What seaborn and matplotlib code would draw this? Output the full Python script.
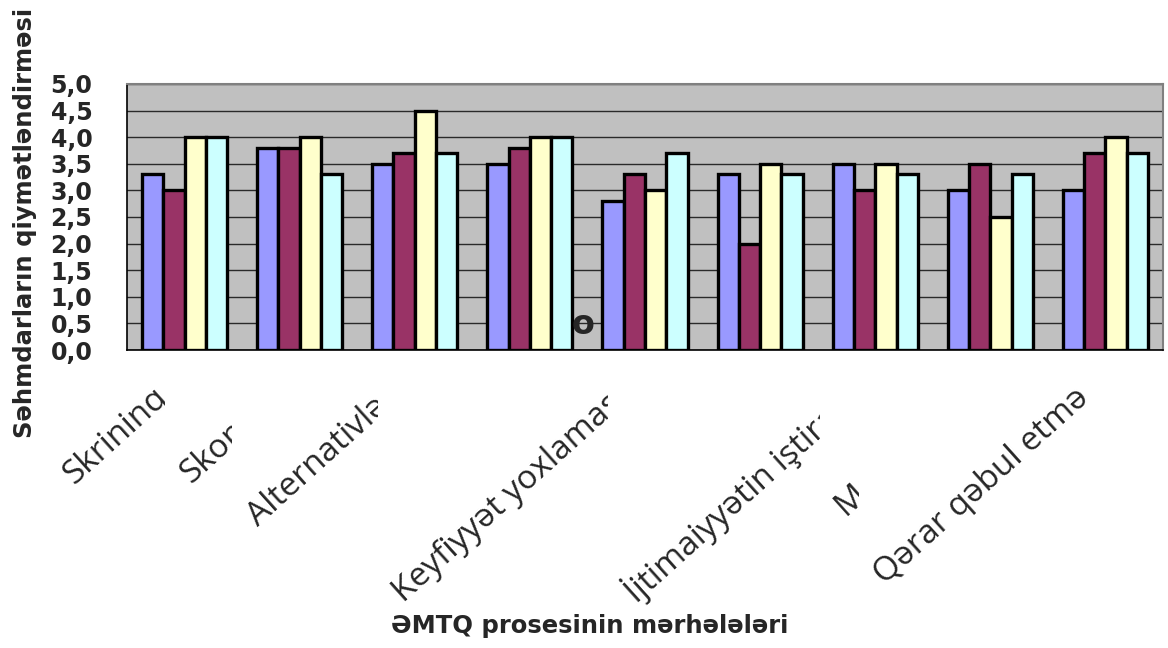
import numpy as np
import pandas as pd
import matplotlib
matplotlib.use("Agg")
import matplotlib.pyplot as plt
import matplotlib.transforms as mtransforms
from matplotlib.patches import Rectangle
import seaborn as sns

# Stages of the assessment process (x axis)
categories = [
    "Skrininq",
    "Skopinq",
    "Alternativlər",
    "Hesabat",
    "Keyfiyyət yoxlaması",
    "Təsirlər",
    "İjtimaiyyətin iştirakı",
    "Monitorinq",
    "Qərar qəbul etmə",
]
# Four groups of shareholders' scores
series_names = ["Qrup 1", "Qrup 2", "Qrup 3", "Qrup 4"]
group1 = [3.3, 3.8, 3.5, 3.5, 2.8, 3.3, 3.5, 3.0, 3.0]
group2 = [3.0, 3.8, 3.7, 3.8, 3.3, 2.0, 3.0, 3.5, 3.7]
group3 = [4.0, 4.0, 4.5, 4.0, 3.0, 3.5, 3.5, 2.5, 4.0]
group4 = [4.0, 3.3, 3.7, 4.0, 3.7, 3.3, 3.3, 3.3, 3.7]
y_ticks = [0.0, 0.5, 1.0, 1.5, 2.0, 2.5, 3.0, 3.5, 4.0, 4.5, 5.0]
colors = ["#9999FF", "#993366", "#FFFFCC", "#CCFFFF"]

rows = []
for name, vals in zip(series_names, [group1, group2, group3, group4]):
    for cat, v in zip(categories, vals):
        rows.append({"stage": cat, "group": name, "score": v})
df = pd.DataFrame(rows)

sns.set_style("white")
plt.rcParams["font.family"] = ["DejaVu Sans"]

W, H = 1168, 648
fig = plt.figure(figsize=(W / 100, H / 100), dpi=100)
ax = fig.add_axes([127 / W, 1 - 350 / H, (1163 - 127) / W, (350 - 84) / H])
ax.set_facecolor("#C0C0C0")

sns.barplot(
    data=df, x="stage", y="score", hue="group", order=categories,
    hue_order=series_names, palette=colors, saturation=1, width=0.74, gap=0,
    edgecolor="black", linewidth=2.4, errorbar=None, legend=False, ax=ax,
)

ax.set_xlim(-0.5, len(categories) - 0.5)
ax.set_ylim(0, 5)
ax.set_yticks(y_ticks)
ax.set_yticklabels([f"{v:.1f}".replace(".", ",") for v in y_ticks],
                   fontsize=17, fontweight="bold")
ax.set_xticks(np.arange(-0.5, len(categories), 1.0))
ax.set_xticklabels([])
ax.set_xlabel("")
ax.set_ylabel("")
ax.yaxis.grid(True, color="#2a2a2a", linewidth=1.0)
ax.set_axisbelow(True)
ax.tick_params(axis="x", length=5, width=1, color="#808080", direction="out")
ax.tick_params(axis="y", length=8, width=1, color="black", direction="out", pad=17)
for side in ["top", "right"]:
    ax.spines[side].set_color("#808080")
    ax.spines[side].set_linewidth(1.5)
for side in ["left", "bottom"]:
    ax.spines[side].set_color("black")
    ax.spines[side].set_linewidth(1.2)

# stray glyph inside the plot area
ax.text(3.465, 0.31, "o", fontsize=24, fontweight="bold", ha="center",
        va="baseline", zorder=5)

# rotated category labels, each on a white box that hides the label before it
base = mtransforms.blended_transform_factory(ax.transData, ax.transAxes)
label_tr = mtransforms.offset_copy(base, fig=fig, x=-10, y=-31, units="dots")
texts = []
for i, name in enumerate(categories):
    t = ax.text(i, 0, name, transform=label_tr, rotation=42, ha="right",
                va="top", fontsize=24, family=["Open Sans", "DejaVu Sans"],
                clip_on=False, zorder=20 + 2 * i + 1)
    texts.append(t)

fig.canvas.draw()
renderer = fig.canvas.get_renderer()
inv = fig.transFigure.inverted()
for i, t in enumerate(texts):
    bb = t.get_window_extent(renderer)
    (fx0, fy0) = inv.transform((bb.x0 - 9, bb.y0 - 5))
    (fx1, fy1) = inv.transform((bb.x1 + 3, bb.y1 + 2))
    box = Rectangle((fx0, fy0), fx1 - fx0, fy1 - fy0, transform=fig.transFigure,
                    facecolor="white", edgecolor="none", zorder=20 + 2 * i,
                    clip_on=False)
    ax.add_artist(box)

fig.text(25 / W, 1 - 223 / H, "Səhmdarların qiymətləndirməsi", rotation=90,
         ha="center", va="center", fontsize=17.5, fontweight="bold")
fig.text(590 / W, 1 - 626 / H, "ƏMTQ prosesinin mərhələləri", ha="center",
         va="center", fontsize=17.5, fontweight="bold")

fig.savefig("out.png", dpi=100, facecolor="white")
